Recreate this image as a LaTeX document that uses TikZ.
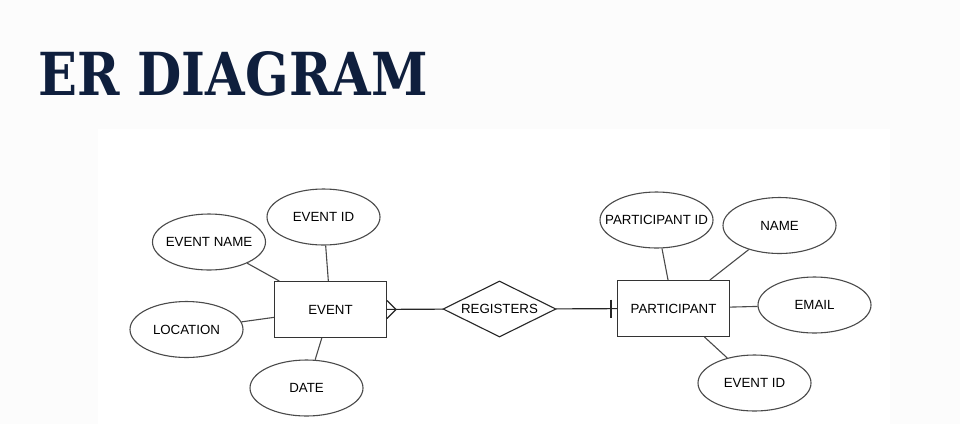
\documentclass[tikz,border=0pt]{standalone}
\usepackage{graphicx}
\usepackage{fontspec}
\setsansfont{Liberation Sans}
\newfontfamily\titlefont{DejaVu Serif}
\usetikzlibrary{shapes.geometric,calc}
\definecolor{titleblue}{HTML}{0F1F3D}
\definecolor{attrgray}{HTML}{4A4A4A}
\definecolor{pagegray}{HTML}{FCFCFC}

\begin{document}
\begin{tikzpicture}[x=1pt,y=-1pt,line width=1.1pt,font=\sffamily\fontsize{13.3}{15}\selectfont,
  entity/.style={draw=black!80,line width=1pt,rectangle,minimum width=112pt,minimum height=56pt,inner sep=0pt},
  attr/.style={draw=attrgray,ellipse,minimum width=113pt,minimum height=56pt,inner xsep=-16pt,inner ysep=0pt},
  rel/.style={draw=black!85,diamond,aspect=2,minimum width=113pt,minimum height=56pt,inner sep=-4pt},
  attrline/.style={draw=attrgray},
  relline/.style={draw=black!85}]
\useasboundingbox (0,0) rectangle (960,424);
\fill[pagegray] (0,0) rectangle (960,424);
\fill[white] (98,129) rectangle (890,424);

% title
\node[anchor=base west,inner sep=0pt,text=titleblue] (title) at (38,95) {\resizebox{389pt}{44pt}{\titlefont\bfseries ER DIAGRAM}};

% entities and relationship
\node[entity] (event) at (330.5,309.5) {EVENT};
\node[rel] (registers) at (499.5,309) {REGISTERS};
\node[entity] (participant) at (673.5,308.5) {PARTICIPANT};

% attributes
\node[attr] (eventname) at (209,242) {EVENT NAME};
\node[attr] (eventid) at (323.5,217) {EVENT ID};
\node[attr] (location) at (186.5,329.5) {LOCATION};
\node[attr] (date) at (306.5,388) {DATE};
\node[attr] (participantid) at (656.5,220) {PARTICIPANT ID};
\node[attr] (name) at (779.5,225.5) {NAME};
\node[attr] (email) at (814.5,305) {EMAIL};
\node[attr] (peventid) at (754.5,383) {EVENT ID};

\path[attrline] (eventname) -- (event)
                (eventid) -- (event)
                (location) -- (event)
                (date) -- (event)
                (participantid) -- (participant)
                (name) -- (participant)
                (email) -- (participant)
                (peventid) -- (participant);

\path[relline] (event) -- (registers)
               (registers) -- (participant);

% crow's foot and bar
\coordinate (crow) at ($(event.east)+(9,0)$);
\coordinate (bar) at ($(participant.west)+(-6,0)$);
\draw[relline] ($(event.east)+(0,-9)$) -- (crow) -- ($(event.east)+(0,9)$);
\draw[relline] ($(bar)+(0,-9)$) -- ($(bar)+(0,9)$);
\end{tikzpicture}
\end{document}
